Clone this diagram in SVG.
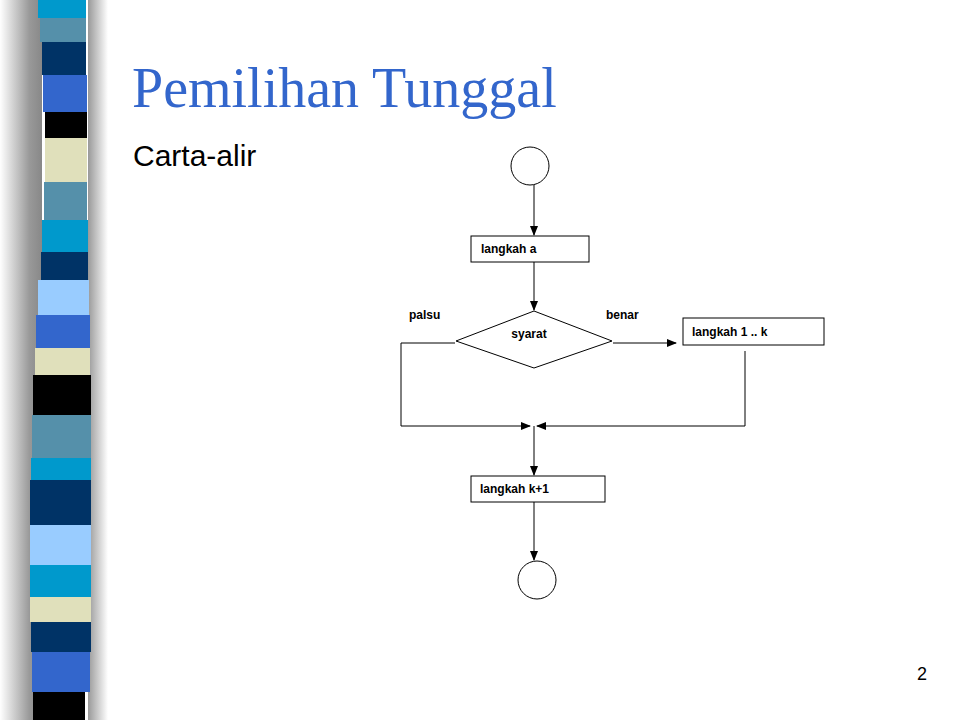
<svg xmlns="http://www.w3.org/2000/svg" width="960" height="720" viewBox="0 0 960 720">
<defs>
<linearGradient id="sh" x1="0" x2="1" y1="0" y2="0"><stop offset="0" stop-color="#fff"/><stop offset="0.7" stop-color="#999"/><stop offset="1" stop-color="#888"/></linearGradient>
<linearGradient id="sh2" x1="0" x2="1" y1="0" y2="0"><stop offset="0" stop-color="#999"/><stop offset="1" stop-color="#fff"/></linearGradient>
<marker id="ah" markerWidth="10" markerHeight="8" refX="9" refY="4" orient="auto" markerUnits="userSpaceOnUse"><path d="M0,0 L10,4 L0,8 Z" fill="#000"/></marker>
<style>
.b{fill:#fff;stroke:#000;stroke-width:1}
.t{font-family:"Liberation Sans",Arial,sans-serif;font-size:12px;font-weight:bold;fill:#000}
.l{fill:none;stroke:#000;stroke-width:1}
</style>
</defs>
<rect width="960" height="720" fill="#fff"/>
<rect x="0" y="0" width="42" height="720" fill="url(#sh)"/>
<rect x="88" y="0" width="20" height="720" fill="url(#sh2)"/>
<g id="stripes">
<rect x="38" y="0" width="48" height="18" fill="#0099cc"/>
<rect x="40" y="18" width="46" height="24" fill="#5590aa"/>
<rect x="42" y="42" width="44" height="33" fill="#003366"/>
<rect x="43" y="75" width="44" height="37" fill="#3366cc"/>
<rect x="45" y="112" width="42" height="26" fill="#000"/>
<rect x="45" y="138" width="42" height="44" fill="#e0e0bb"/>
<rect x="44" y="182" width="43" height="38" fill="#5590aa"/>
<rect x="42" y="220" width="46" height="32" fill="#0099cc"/>
<rect x="41" y="252" width="47" height="28" fill="#003366"/>
<rect x="38" y="280" width="51" height="35" fill="#99ccff"/>
<rect x="36" y="315" width="54" height="33" fill="#3366cc"/>
<rect x="35" y="348" width="55" height="27" fill="#e0e0bb"/>
<rect x="33" y="375" width="58" height="40" fill="#000"/>
<rect x="32" y="415" width="59" height="43" fill="#5590aa"/>
<rect x="31" y="458" width="60" height="22" fill="#0099cc"/>
<rect x="30" y="480" width="61" height="45" fill="#003366"/>
<rect x="30" y="525" width="61" height="40" fill="#99ccff"/>
<rect x="30" y="565" width="61" height="32" fill="#0099cc"/>
<rect x="30" y="597" width="61" height="25" fill="#e0e0bb"/>
<rect x="31" y="622" width="60" height="30" fill="#003366"/>
<rect x="32" y="652" width="58" height="40" fill="#3366cc"/>
<rect x="33" y="692" width="52" height="28" fill="#000"/>
</g>
<text x="132" y="107" font-family="Liberation Serif,serif" font-size="56" fill="#3366cc">Pemilihan Tunggal</text>
<text x="133" y="166" font-family="Liberation Sans,Arial,sans-serif" font-size="30" fill="#000">Carta-alir</text>
<text x="922" y="680" font-family="Liberation Sans,Arial,sans-serif" font-size="18" fill="#000" text-anchor="middle">2</text>
<g id="start"><circle class="b" cx="530" cy="166" r="19"/></g>
<g id="a"><rect class="b" x="471" y="236" width="118" height="26"/><text class="t" x="481" y="253">langkah a</text></g>
<g id="syarat"><polygon class="b" points="456,341 534,311 612,341 534,368"/><text class="t" x="529" y="338" font-size="14" text-anchor="middle">syarat</text></g>
<text class="t" x="409" y="319">palsu</text>
<text class="t" x="606" y="319">benar</text>
<g id="k"><rect class="b" x="683" y="318" width="141" height="27"/><text class="t" x="692" y="336">langkah 1 .. k</text></g>
<g id="k1"><rect class="b" x="471" y="476" width="134" height="26"/><text class="t" x="480" y="493">langkah k+1</text></g>
<g id="end"><circle class="b" cx="537" cy="580" r="19"/></g>
<g id="connectors">
<line class="l" x1="534" y1="185" x2="534" y2="235" marker-end="url(#ah)"/>
<line class="l" x1="534" y1="262" x2="534" y2="310" marker-end="url(#ah)"/>
<line class="l" x1="613" y1="343" x2="676" y2="343" marker-end="url(#ah)"/>
<polyline class="l" points="455,343 401,343 401,426 530,426" marker-end="url(#ah)"/>
<polyline class="l" points="745,351 745,426 537,426" marker-end="url(#ah)"/>
<line class="l" x1="534" y1="426" x2="534" y2="475" marker-end="url(#ah)"/>
<line class="l" x1="534" y1="502" x2="534" y2="560" marker-end="url(#ah)"/>
</g>
</svg>
